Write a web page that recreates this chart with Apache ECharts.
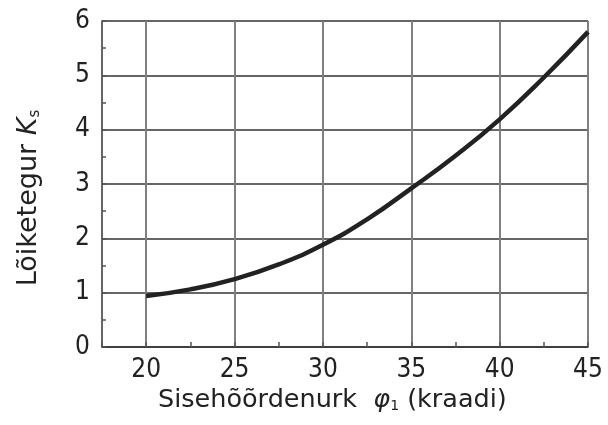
<!DOCTYPE html>
<html>
<head>
<meta charset="utf-8">
<script src="https://cdn.jsdelivr.net/npm/echarts@6/dist/echarts.min.js"></script>
<style>html,body{margin:0;padding:0;background:#fff}#c{width:608px;height:425px}</style>
</head>
<body>
<div id="c"></div>
<script>
// Data
var angles = [20, 22.5, 25, 27.5, 30, 32.5, 35, 37.5, 40, 42.5, 45];
var ksValues = [0.94, 1.06, 1.25, 1.52, 1.88, 2.35, 2.92, 3.52, 4.19, 4.96, 5.8];
var xTickLabels = [20, 25, 30, 35, 40, 45];
var yTickLabels = [0, 1, 2, 3, 4, 5, 6];
var xName = 'Sisehõõrdenurk';
var yName = 'Lõiketegur';

var FONT = '"DejaVu Sans Condensed", "Liberation Sans Narrow", "DejaVu Sans", sans-serif';
var NFONT = '"DejaVu Sans", sans-serif';
var TXT = '#222';

var chart = echarts.init(document.getElementById('c'), null, {renderer: 'canvas'});
chart.setOption({
  animation: false,
  backgroundColor: '#fff',
  grid: {left: 102, right: 20, top: 21, bottom: 78, containLabel: false},
  xAxis: {
    type: 'value', min: 17.5, max: 45, interval: 2.5,
    axisLine: {show: true, onZero: false, lineStyle: {color: '#333', width: 1.5}},
    axisTick: {show: true, inside: true, length: 5, lineStyle: {color: '#555', width: 1.5}},
    axisLabel: {
      margin: 10, color: TXT, fontFamily: FONT, fontSize: 26,
      formatter: function (v) { return xTickLabels.indexOf(v) >= 0 ? String(v) : ''; }
    },
    splitLine: {show: true, lineStyle: {color: ['rgba(0,0,0,0)', '#808080'], width: 2}}
  },
  yAxis: {
    type: 'value', min: 0, max: 6, interval: 0.5,
    axisLine: {show: true, onZero: false, lineStyle: {color: '#333', width: 1.5}},
    axisTick: {show: true, inside: true, length: 4, lineStyle: {color: '#555', width: 1.5}},
    axisLabel: {
      margin: 12, color: TXT, fontFamily: FONT, fontSize: 26,
      formatter: function (v) { return yTickLabels.indexOf(v) >= 0 ? String(v) : ''; }
    },
    splitLine: {show: true, lineStyle: {color: ['#333', 'rgba(0,0,0,0)'], width: 1.5}}
  },
  series: [{
    type: 'line',
    data: angles.map(function (a, i) { return [a, ksValues[i]]; }),
    smooth: true,
    showSymbol: false,
    lineStyle: {color: '#222', width: 4.5},
    z: 5
  }],
  graphic: [
    {
      type: 'text', left: 158, top: 387,
      style: {
        rich: {
          t: {fontFamily: NFONT, fontSize: 25.5, fill: TXT},
          phi: {fontFamily: NFONT, fontSize: 25.5, fill: TXT, fontStyle: 'italic'},
          sub: {fontFamily: NFONT, fontSize: 14, fill: TXT, padding: [12, 0, 0, 0]}
        },
        text: '{t|' + xName + '  }{phi|φ}{sub|1}{t| (kraadi)}'
      }
    },
    {
      type: 'text', x: 29, y: 198, rotation: Math.PI / 2,
      style: {
        rich: {
          t: {fontFamily: NFONT, fontSize: 27, fill: TXT},
          k: {fontFamily: NFONT, fontSize: 27, fill: TXT, fontStyle: 'italic'},
          sub: {fontFamily: NFONT, fontSize: 15, fill: TXT, padding: [12, 0, 0, 0]}
        },
        text: '{t|' + yName + ' }{k|K}{sub|s}',
        align: 'center', verticalAlign: 'middle'
      }
    }
  ]
});
</script>
</body>
</html>
